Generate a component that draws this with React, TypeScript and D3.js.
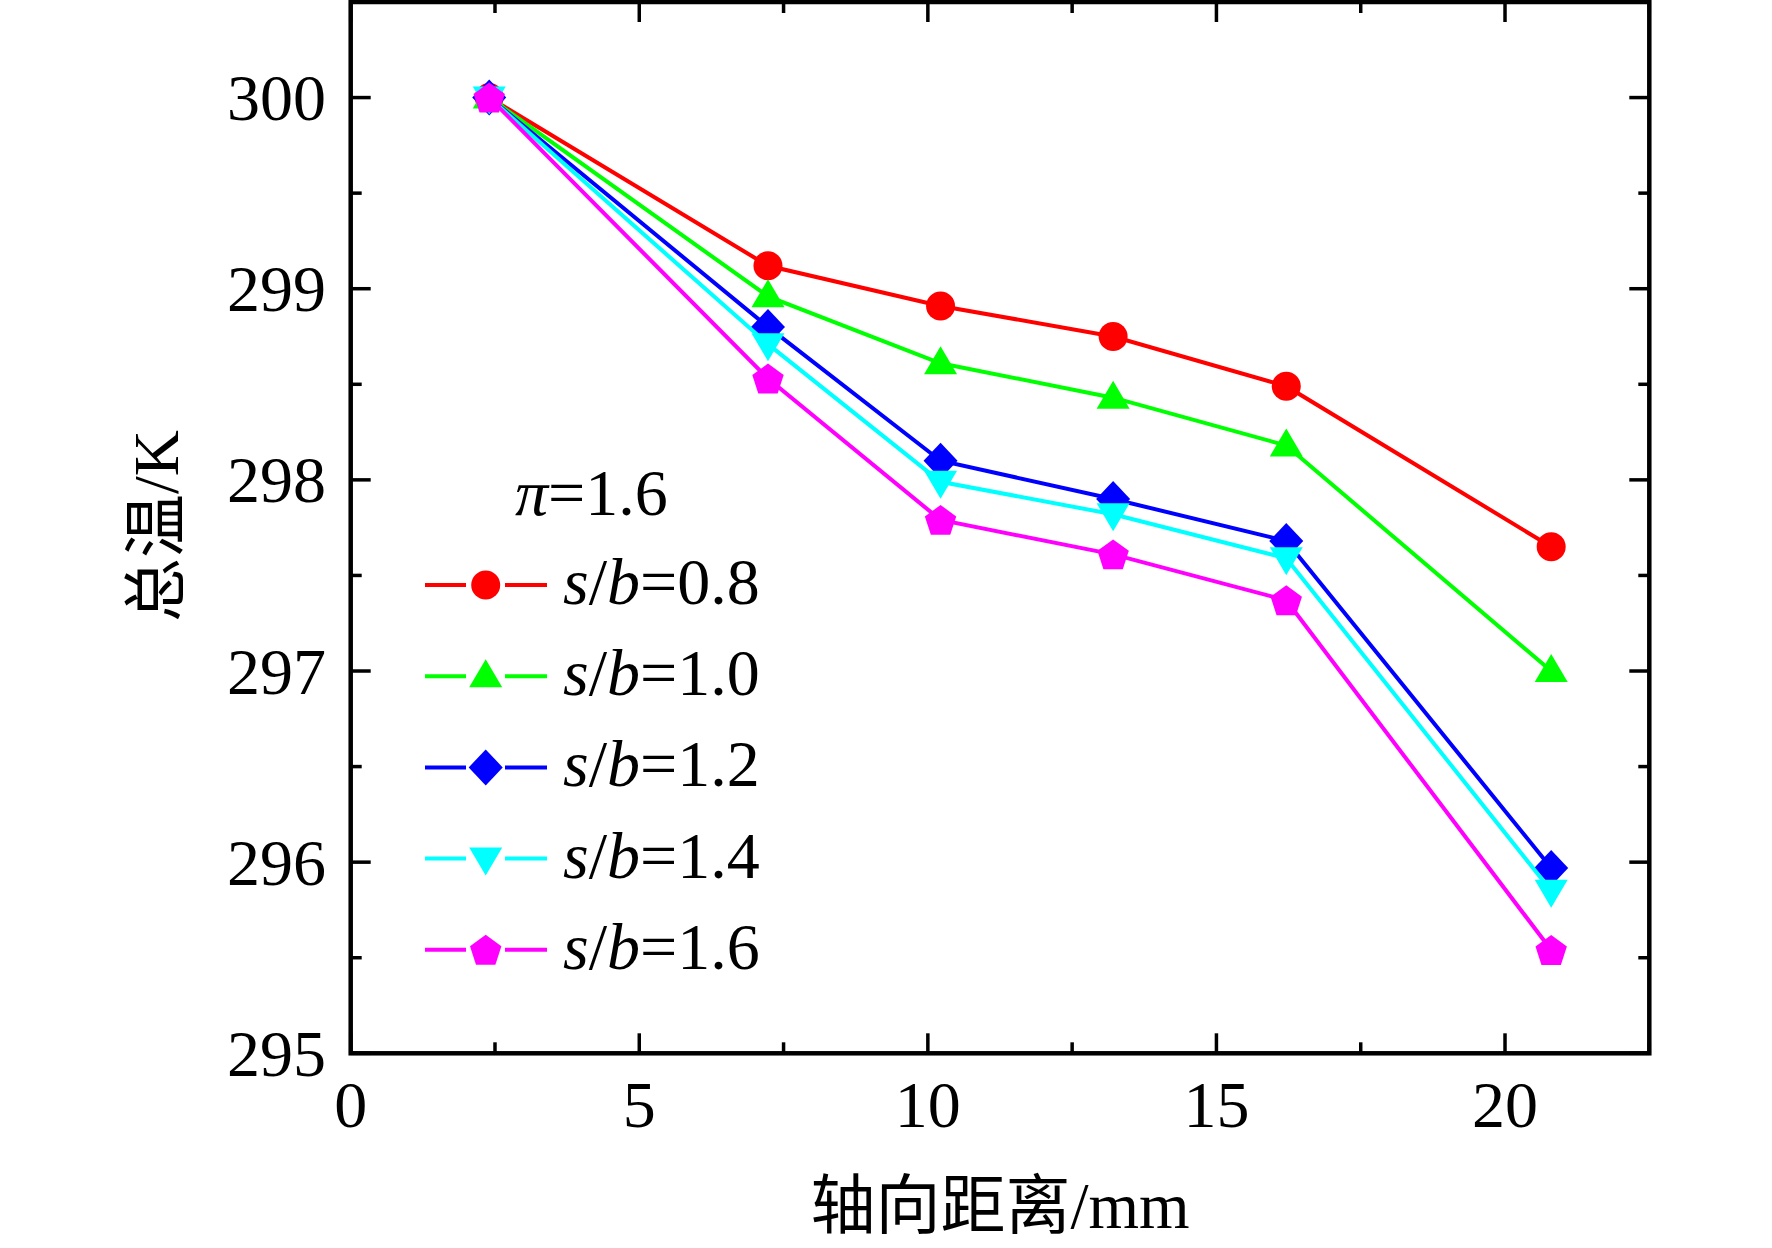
import React from "react";
import * as d3 from "d3";

const xValues = [2.4, 7.23, 10.22, 13.21, 16.21, 20.8];
const seriesNames = ["0.8", "1.0", "1.2", "1.4", "1.6"];
const sb08 = [300, 299.12, 298.91, 298.75, 298.49, 297.65];
const sb10 = [300, 298.96, 298.61, 298.43, 298.18, 297.0];
const sb12 = [300, 298.8, 298.1, 297.9, 297.68, 295.97];
const sb14 = [300, 298.71, 297.99, 297.82, 297.59, 295.85];
const sb16 = [300, 298.53, 297.79, 297.61, 297.37, 295.54];
const seriesValues = [sb08, sb10, sb12, sb14, sb16];
const seriesColors = ["#ff0000", "#00ff00", "#0000ff", "#00ffff", "#ff00ff"];
const seriesMarkers = ["circle", "triangle", "diamond", "triangleDown", "pentagon"];
const xTicks = [0, 5, 10, 15, 20];
const yTicks = [295, 296, 297, 298, 299, 300];

const W = 1772;
const H = 1248;
const L = 350.7, R = 1649.3, T = 2, B = 1053.3;
const FONT = "'Liberation Serif', 'Times New Roman', 'Noto Sans CJK SC', serif";

function markerPath(type: string): string {
  switch (type) {
    case "circle": {
      const p = d3.path();
      p.arc(0, 0, 14.5, 0, Math.PI * 2);
      return p.toString();
    }
    case "triangle":
      return "M0,-17L16.5,11L-16.5,11Z";
    case "triangleDown":
      return "M0,17L16.5,-11L-16.5,-11Z";
    case "diamond":
      return "M0,-18L17,0L0,18L-17,0Z";
    case "pentagon": {
      const r = 16.5;
      const pts = d3.range(5).map((i) => {
        const a = -Math.PI / 2 + (i * 2 * Math.PI) / 5;
        return [r * Math.cos(a), r * Math.sin(a) + 1.5];
      });
      return "M" + pts.map((p) => p.join(",")).join("L") + "Z";
    }
  }
  return "";
}

export default function App() {
  const x = d3.scaleLinear().domain([0, 22.5]).range([L, R]);
  const y = d3.scaleLinear().domain([295, 300.5]).range([B, T]);
  const line = d3
    .line<[number, number]>()
    .x((d) => x(d[0]))
    .y((d) => y(d[1]));

  const xMinor = d3.range(0, 22.5 + 0.001, 2.5);
  const yMinor = d3.range(295, 300.5 + 0.001, 0.5);

  const legendY0 = 585;
  const legendDy = 91.2;

  return (
    <svg
      width={W}
      height={H}
      style={{ position: "absolute", left: 0, top: 0, background: "#fff" }}
      fontFamily={FONT}
    >
      <rect x={0} y={0} width={W} height={H} fill="#fff" />
      {/* ticks */}
      <g stroke="#000" strokeWidth={3.5}>
        {xMinor.map((v) => {
          const major = Math.abs(v % 5) < 1e-6;
          const len = major ? 20 : 11;
          return (
            <g key={"xt" + v}>
              <line x1={x(v)} x2={x(v)} y1={B} y2={B - len} />
              <line x1={x(v)} x2={x(v)} y1={T} y2={T + len} />
            </g>
          );
        })}
        {yMinor.map((v) => {
          const major = Math.abs(v - Math.round(v)) < 1e-6;
          const len = major ? 20 : 11;
          return (
            <g key={"yt" + v}>
              <line x1={L} x2={L + len} y1={y(v)} y2={y(v)} />
              <line x1={R} x2={R - len} y1={y(v)} y2={y(v)} />
            </g>
          );
        })}
      </g>
      {/* series */}
      {seriesValues.map((vals, si) => {
        const pts = vals.map((v, i) => [xValues[i], v] as [number, number]);
        return (
          <g key={"s" + si}>
            <path d={line(pts) || ""} fill="none" stroke={seriesColors[si]} strokeWidth={4} />
            {pts.map((p, i) => (
              <path
                key={i}
                d={markerPath(seriesMarkers[si])}
                transform={`translate(${x(p[0])},${y(p[1])})`}
                fill={seriesColors[si]}
              />
            ))}
          </g>
        );
      })}
      {/* frame */}
      <rect x={L} y={T} width={R - L} height={B - T} fill="none" stroke="#000" strokeWidth={4.5} />
      {/* tick labels */}
      <g fontSize={66} fill="#000">
        {yTicks.map((v) => (
          <text key={"yl" + v} x={326} y={y(v) + 22.5} textAnchor="end">
            {v}
          </text>
        ))}
        {xTicks.map((v) => (
          <text key={"xl" + v} x={x(v)} y={1127} textAnchor="middle">
            {v}
          </text>
        ))}
      </g>
      {/* axis titles */}
      <text x={1000} y={1228} fontSize={65} textAnchor="middle" fill="#000">
        轴向距离/mm
      </text>
      <text
        transform="translate(178,526) rotate(-90)"
        fontSize={64}
        textAnchor="middle"
        fill="#000"
      >
        总温/K
      </text>
      {/* legend */}
      <text x={515} y={515} fontSize={66} fill="#000">
        <tspan fontStyle="italic">π</tspan>
        <tspan>=1.6</tspan>
      </text>
      {seriesNames.map((name, si) => {
        const ly = legendY0 + si * legendDy;
        return (
          <g key={"lg" + si}>
            <line x1={425} x2={466} y1={ly} y2={ly} stroke={seriesColors[si]} strokeWidth={4} />
            <line x1={505} x2={547} y1={ly} y2={ly} stroke={seriesColors[si]} strokeWidth={4} />
            <path
              d={markerPath(seriesMarkers[si])}
              transform={`translate(485.7,${ly})`}
              fill={seriesColors[si]}
            />
            <text x={563} y={ly + 19} fontSize={66} fill="#000">
              <tspan fontStyle="italic">s</tspan>
              <tspan>/</tspan>
              <tspan fontStyle="italic">b</tspan>
              <tspan>={name}</tspan>
            </text>
          </g>
        );
      })}
    </svg>
  );
}
